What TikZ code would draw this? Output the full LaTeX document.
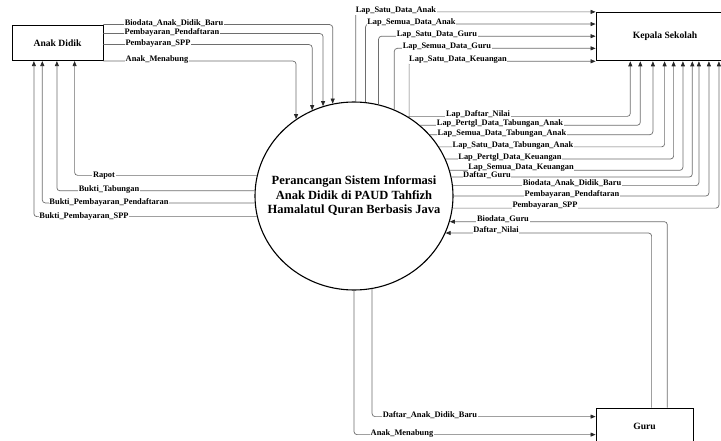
\documentclass[tikz,border=0pt]{standalone}
\usepackage{fontspec}
\setmainfont{Liberation Serif}
\usetikzlibrary{shapes.geometric,arrows.meta}
\definecolor{flowc}{RGB}{110,110,110}
\definecolor{tipc}{RGB}{40,40,40}
\tikzset{
  entity/.style={draw=black, line width=0.8pt, fill=white, inner sep=0pt,
    font=\bfseries\fontsize{9.6}{11}\selectfont},
  proc/.style={draw=black, line width=1.1pt, ellipse, minimum width=198pt,
    minimum height=188pt, inner sep=0pt},
  flow/.style={draw=flowc, line width=0.7pt, rounded corners=3pt,
    -{Triangle[length=5pt,width=4pt,color=tipc]}},
  lbl/.style={fill=white, inner sep=0.6pt, yshift=1.5pt,
    font=\bfseries\fontsize{8.4}{9}\selectfont}
}
\begin{document}
\begin{tikzpicture}[x=1pt,y=-1pt]
\useasboundingbox (0,0) rectangle (721,441);
\fill[white] (0,0) rectangle (721,441);
\clip (0,0) rectangle (721,441);

% entities and process
\node[entity, minimum width=91pt, minimum height=35.7pt] (ad) at (57.5,42.85) {Anak Didik};
\node[entity, minimum width=138pt, minimum height=48.6pt] (ks) at (665,36.6) {Kepala Sekolah};
\node[entity, minimum width=97pt, minimum height=37pt] (gr) at (644.5,426.5) {Guru};
\node[proc] (c) at (354,196) {};
\node[font=\bfseries\fontsize{12.5}{14.5}\selectfont, align=center] (ct) at (c.center)
  {Perancangan Sistem Informasi\\Anak Didik di PAUD Tahfizh\\Hamalatul Quran Berbasis Java};

% Anak Didik -> process
\draw[flow] (ad.north east) -| (c.103.5);
\draw[flow] ([yshift=-9pt]ad.north east) -| (c.109.15);
\draw[flow] ([yshift=-20pt]ad.north east) -| (c.116.26);
\draw[flow] (ad.south east) -| (c.127.28);

% process -> Kepala Sekolah (left side)
\draw[flow] (c.89.39) |- (ks.north west);
\draw[flow] (c.83.28) |- ([yshift=-12.15pt]ks.north west);
\draw[flow] (c.75.26) |- ([yshift=-24.3pt]ks.north west);
\draw[flow] (c.65.71) |- ([yshift=-36.45pt]ks.north west);
\draw[flow] (c.55.57) |- (ks.south west);

% process -> Kepala Sekolah (bottom side)
\draw[flow] (c.56.98) -| ([xshift=34.7pt]ks.south west);
\draw[flow] (c.47.57) -| ([xshift=44.7pt]ks.south west);
\draw[flow] (c.39.00) -| ([xshift=57.3pt]ks.south west);
\draw[flow] (c.30.11) -| ([xshift=69pt]ks.south west);
\draw[flow] (c.22.12) -| ([xshift=78pt]ks.south west);
\draw[flow] (c.15.89) -| ([xshift=87.3pt]ks.south west);
\draw[flow] (c.11.09) -| ([xshift=96.7pt]ks.south west);
\draw[flow] (c.6.38) -| ([xshift=103.3pt]ks.south west);
\draw[flow] (c.0) -| ([xshift=113.3pt]ks.south west);
\draw[flow] (c.353.62) -| ([xshift=123.3pt]ks.south west);

% Guru -> process
\draw[flow] ([xshift=71.7pt]gr.north west) |- (c.345.32);
\draw[flow] ([xshift=56pt]gr.north west) |- (c.338.51);

% process -> Anak Didik
\draw[flow] (c.168.91) -| ([xshift=63pt]ad.south west);
\draw[flow] (c.177.10) -| ([xshift=45.3pt]ad.south west);
\draw[flow] (c.184.64) -| ([xshift=30.7pt]ad.south west);
\draw[flow] (c.192.87) -| ([xshift=22.3pt]ad.south west);

% process -> Guru
\draw[flow] (c.281.02) |- ([yshift=-9pt]gr.north west);
\draw[flow] (c.270) |- ([yshift=-27pt]gr.north west);

% labels
\node[lbl] (a1) at (174,25) {Biodata\_Anak\_Didik\_Baru};
\node[lbl] (a2) at (172,34) {Pembayaran\_Pendaftaran};
\node[lbl] (a3) at (158,45) {Pembayaran\_SPP};
\node[lbl] (a4) at (157,60.7) {Anak\_Menabung};

\node[lbl] (k1) at (396,12.3) {Lap\_Satu\_Data\_Anak};
\node[lbl] (k2) at (411.5,24.4) {Lap\_Semua\_Data\_Anak};
\node[lbl] (k3) at (437,36.5) {Lap\_Satu\_Data\_Guru};
\node[lbl] (k4) at (447,48.6) {Lap\_Semua\_Data\_Guru};
\node[lbl] (k5) at (458,60.7) {Lap\_Satu\_Data\_Keuangan};

\node[lbl] (r1) at (478,116) {Lap\_Daftar\_Nilai};
\node[lbl] (r2) at (500,125) {Lap\_Pertgl\_Data\_Tabungan\_Anak};
\node[lbl] (r3) at (502,135) {Lap\_Semua\_Data\_Tabungan\_Anak};
\node[lbl] (r4) at (513,147) {Lap\_Satu\_Data\_Tabungan\_Anak};
\node[lbl] (r5) at (510,159) {Lap\_Pertgl\_Data\_Keuangan};
\node[lbl] (r6) at (521,169) {Lap\_Semua\_Data\_Keuangan};
\node[lbl] (r7) at (487,177) {Daftar\_Guru};
\node[lbl] (r8) at (572,185) {Biodata\_Anak\_Didik\_Baru};
\node[lbl] (r9) at (572,196) {Pembayaran\_Pendaftaran};
\node[lbl] (r10) at (545,207) {Pembayaran\_SPP};

\node[lbl] (g1) at (503,221) {Biodata\_Guru};
\node[lbl] (g2) at (496,232) {Daftar\_Nilai};

\node[lbl] (b1) at (104,177) {Rapot};
\node[lbl] (b2) at (109,191) {Bukti\_Tabungan};
\node[lbl] (b3) at (109,204) {Bukti\_Pembayaran\_Pendaftaran};
\node[lbl] (b4) at (84,218) {Bukti\_Pembayaran\_SPP};

\node[lbl] (d1) at (430,417) {Daftar\_Anak\_Didik\_Baru};
\node[lbl] (d2) at (402,435) {Anak\_Menabung};
\end{tikzpicture}
\end{document}
